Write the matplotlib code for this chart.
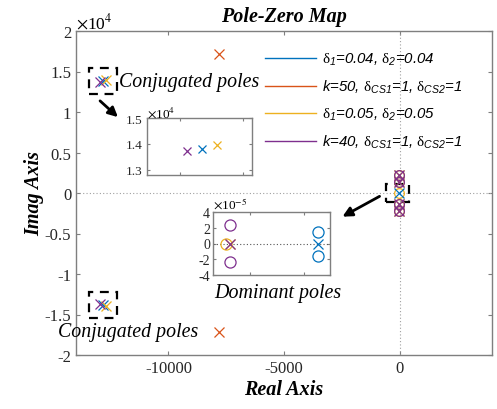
import matplotlib.pyplot as plt
import numpy as np
from matplotlib.patches import Rectangle, FancyArrowPatch

# legend labels and colours of the four cases (MATLAB default order)
labels = [r'$\mathrm{\delta}_{\mathsf{1}}$=0.04, $\mathrm{\delta}_{\mathsf{2}}$=0.04',
          r'k=50, $\mathrm{\delta}_{\mathsf{CS1}}$=1, $\mathrm{\delta}_{\mathsf{CS2}}$=1',
          r'$\mathrm{\delta}_{\mathsf{1}}$=0.05, $\mathrm{\delta}_{\mathsf{2}}$=0.05',
          r'k=40, $\mathrm{\delta}_{\mathsf{CS1}}$=1, $\mathrm{\delta}_{\mathsf{CS2}}$=1']
colors = ['#0072BD', '#D95319', '#EDB120', '#7E2F8E']

# conjugated poles (real, imag) for each case
conj_re = [-12825, -7800, -12706, -12944]
conj_im = [13820, 17200, 13940, 13710]

# poles / zeros close to the origin (main view), yellow and purple cases
near_re = [-40, -40]
near_im = [1400, 2200]

# dominant poles (zoom on origin), imag in 1e-5, real in inset units
dom_pole_re = [0.52, None, -2.74, -2.74]
dom_zero_re = [0.52, None, -2.89, -2.74]
dom_zero_im = [[1.45, -1.55], None, [0.0], [2.4, -2.4]]

serif = 'Liberation Serif'
plt.rcParams['font.family'] = serif
plt.rcParams['axes.unicode_minus'] = False
plt.rcParams['mathtext.fontset'] = 'custom'
plt.rcParams['mathtext.rm'] = 'Liberation Serif'
plt.rcParams['mathtext.it'] = 'Liberation Serif:italic'
plt.rcParams['mathtext.sf'] = 'Liberation Sans:italic'

W, H = 497, 410
fig = plt.figure(figsize=(W / 100, H / 100), dpi=100)

def px_axes(l, t, r, b):
    return fig.add_axes([l / W, (H - b) / H, (r - l) / W, (b - t) / H])

def style(ax, size):
    for s in ax.spines.values():
        s.set_color('#7f7f7f')
        s.set_linewidth(1.0)
    ax.tick_params(direction='in', top=True, right=True, labelsize=size,
                   color='#7f7f7f', labelcolor='#262626', length=3)

ax = px_axes(76, 32, 492, 356)
style(ax, 12)
ax.axhline(0, color='#a0a0a0', ls=(0, (1, 2)), lw=0.8)
ax.axvline(0, color='#a0a0a0', ls=(0, (1, 2)), lw=0.8)
for i, c in enumerate(colors):
    ax.plot([conj_re[i]] * 2, np.array([conj_im[i], -conj_im[i]]) / 1e4, 'x',
            color=c, ms=7, mew=0.9)
for c in [colors[2], colors[3]]:
    for re, im in zip(near_re, near_im):
        ax.plot([re, re], [im / 1e4, -im / 1e4], 'x', color=c, ms=7, mew=0.9)
        ax.plot([re, re], [im / 1e4, -im / 1e4], 'o', mfc='none', color=c, ms=7, mew=0.9)
ax.plot([-40], [0], 'o', mfc='none', color=colors[2], ms=7, mew=0.9)
ax.plot([-40], [0], 'x', color=colors[0], ms=7, mew=0.9)
ax.set_xlim(-14000, 4000)
ax.set_ylim(-2, 2)
ax.set_xticks([-10000, -5000, 0])
ax.set_yticks(np.arange(-2, 2.01, 0.5))
ax.set_yticklabels(['-2', '-1.5', '-1', '-0.5', '0', '0.5', '1', '1.5', '2'])
ax.text(0.0, 1.01, r'$\times$10$^4$', transform=ax.transAxes, fontsize=12.5,
        math_fontfamily='stix')

# dashed boxes around the conjugated poles and the origin
cx = np.mean([conj_re[0], conj_re[2], conj_re[3]])
cy = np.mean([conj_im[0], conj_im[2], conj_im[3]]) / 1e4
for sgn in [1, -1]:
    ax.add_patch(Rectangle((cx - 600, sgn * cy - 0.16), 1200, 0.32, fill=False,
                           ls=(0, (4, 3)), lw=1.6, ec='k'))
ax.add_patch(Rectangle((-600, -0.11), 1000, 0.22, fill=False, ls=(0, (4, 3)), lw=1.6, ec='k'))

ax.text(-12130, cy, 'Conjugated poles', fontsize=14.3, style='italic', va='center')
ax.text(-14800, -1.71, 'Conjugated poles', fontsize=14.3, style='italic', va='center')

ax.set_title('Pole-Zero Map', fontsize=14.5, weight='bold', style='italic', pad=7)
ax.set_xlabel('Real Axis', fontsize=14.5, weight='bold', style='italic', labelpad=2)
ax.set_ylabel('Imag Axis', fontsize=14.5, weight='bold', style='italic', labelpad=0)

ax.legend(handles=[plt.Line2D([], [], color=c, lw=1) for c in colors], labels=labels,
          loc='upper left', bbox_to_anchor=((265 - 76) / 416, 1 - (52 - 32) / 324),
          frameon=False, borderpad=0, borderaxespad=0,
          prop={'family': 'Liberation Sans', 'style': 'italic', 'size': 10.8},
          handlelength=3.4, handletextpad=0.4, labelspacing=0.73)

# inset: conjugated poles
a1 = px_axes(147, 119, 252, 176)
style(a1, 9.5)
for i in [0, 2, 3]:
    a1.plot(conj_re[i], conj_im[i] / 1e4, 'x', color=colors[i], ms=6, mew=0.9)
a1.set_xlim(-13260, -12430)
a1.set_ylim(1.28, 1.5)
a1.set_xticks([-13000, -12500])
a1.set_xticklabels([])
a1.set_yticks([1.3, 1.4, 1.5])
a1.set_yticklabels(['1.3', '1.4', '1.5'])
a1.tick_params(length=2)
a1.text(0.0, 1.02, r'$\times$10$^4$', transform=a1.transAxes, fontsize=9.5,
        math_fontfamily='stix')

# inset: dominant poles
a2 = px_axes(213, 213, 330, 276)
style(a2, 10)
a2.axhline(0, color='#555555', ls=(0, (1, 2)), lw=0.8)
for i, c in enumerate(colors):
    if dom_pole_re[i] is None:
        continue
    a2.plot(dom_zero_re[i] * np.ones(len(dom_zero_im[i])), dom_zero_im[i], 'o',
            mfc='none', color=c, ms=8, mew=0.9)
    a2.plot(dom_pole_re[i], 0, 'x', color=c, ms=7, mew=0.9)
a2.set_xlim(-3.37, 0.96)
a2.set_ylim(-4, 4)
a2.set_xticks([-2, 0])
a2.set_xticklabels([])
a2.set_yticks([-4, -2, 0, 2, 4])
a2.tick_params(length=2, pad=2)
a2.text(0.0, 1.05, r'$\times$10$^{-5}$', transform=a2.transAxes, fontsize=9.5,
        math_fontfamily='stix')
a2.text(0.01, -0.12, 'Dominant poles', transform=a2.transAxes, fontsize=14.4,
        style='italic', va='top')

# arrows
ap = dict(arrowstyle='-|>', lw=2, color='k', mutation_scale=14)
fig.add_artist(FancyArrowPatch((98 / W, 1 - 100 / H), (120 / W, 1 - 120 / H),
                               transform=fig.transFigure, **ap))
fig.add_artist(FancyArrowPatch((382 / W, 1 - 196 / H), (340 / W, 1 - 219 / H),
                               transform=fig.transFigure, **ap))

fig.savefig('out.png', dpi=100)
